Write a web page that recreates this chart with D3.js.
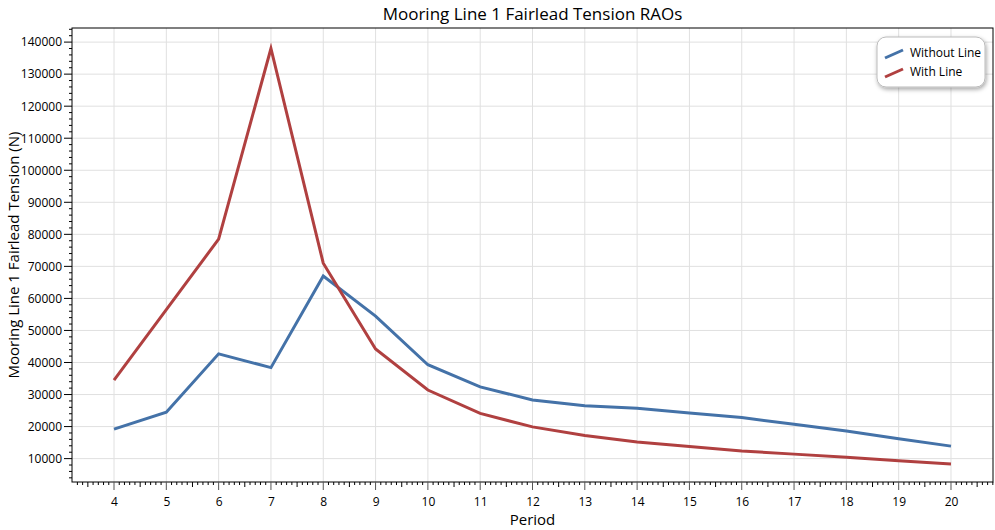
<!DOCTYPE html><html><head><meta charset="utf-8"><script src="https://cdn.jsdelivr.net/npm/d3@7"></script>
<style>body{margin:0;background:#fff}text{font-family:"Segoe UI","Open Sans","Noto Sans",sans-serif}</style></head><body>
<svg id="c" width="995" height="530"></svg>
<script>
const periods=[4,5,6,7,8,9,10,11,12,13,14,15,16,17,18,19,20];
const withoutLine=[19200,24500,42700,38400,67000,54500,39300,32400,28300,26500,25700,24200,22800,20700,18600,16200,13900];
const withLine=[34500,56500,78500,138000,71000,44200,31400,24100,19900,17200,15200,13800,12400,11400,10400,9300,8300];
const yTicks=d3.range(10000,140001,10000);
const svg=d3.select("#c");
const L=72,R=993,T=28,B=482;
const x=d3.scaleLinear().domain([3.197,20.803]).range([L,R]);
const y=d3.scaleLinear().domain([2700,144400]).range([B,T]);
const g=svg.append("g");
g.selectAll(".gx").data(periods).join("line").attr("x1",d=>x(d)).attr("x2",d=>x(d)).attr("y1",T).attr("y2",B).attr("stroke","#e0e0e0");
g.selectAll(".gy").data(yTicks).join("line").attr("x1",L).attr("x2",R).attr("y1",d=>y(d)).attr("y2",d=>y(d)).attr("stroke","#e0e0e0");
g.append("rect").attr("x",L).attr("y",T).attr("width",R-L).attr("height",B-T).attr("fill","none").attr("stroke","#000").attr("stroke-width",1);
const xm=d3.range(33,209).map(v=>v/10);
g.selectAll(".xt").data(xm).join("line").attr("x1",d=>x(d)).attr("x2",d=>x(d)).attr("y1",B)
 .attr("y2",d=>{const r=Math.round(d*10)%10;return B+(r===0?8:r===5?5:3)}).attr("stroke",d=>Math.round(d*10)%10===0?"#555":"#000");
const xa=d3.axisBottom(x).tickValues(periods).tickSize(0).tickPadding(15).tickFormat(d3.format("d"));
g.append("g").attr("transform",`translate(0,${B})`).call(xa).call(a=>a.select(".domain").remove()).selectAll("text").attr("font-size",12).attr("fill","#000");
const ym=d3.range(4000,144001,2000);
g.selectAll(".yt").data(ym).join("line").attr("y1",d=>y(d)).attr("y2",d=>y(d)).attr("x1",L)
 .attr("x2",d=>L-(d%10000===0?8:d%5000===0?5:3)).attr("stroke","#000");
const ya=d3.axisLeft(y).tickValues(yTicks).tickSize(0).tickPadding(10).tickFormat(d3.format("d"));
g.append("g").attr("transform",`translate(${L},0)`).call(ya).call(a=>a.select(".domain").remove()).selectAll("text").attr("font-size",12).attr("fill","#000");
const ln=d3.line().x((d,i)=>x(periods[i])).y(d=>y(d));
g.append("path").attr("d",ln(withoutLine)).attr("fill","none").attr("stroke","#4472a8").attr("stroke-width",3);
g.append("path").attr("d",ln(withLine)).attr("fill","none").attr("stroke","#b04040").attr("stroke-width",3);
svg.append("text").attr("x",(L+R)/2).attr("y",20).attr("text-anchor","middle").attr("font-size",17).text("Mooring Line 1 Fairlead Tension RAOs");
svg.append("text").attr("x",(L+R)/2).attr("y",525).attr("text-anchor","middle").attr("font-size",15).text("Period");
svg.append("text").attr("transform",`translate(19,${(T+B)/2}) rotate(-90)`).attr("text-anchor","middle").attr("font-size",15).text("Mooring Line 1 Fairlead Tension (N)");
const defs=svg.append("defs");
const f=defs.append("filter").attr("id","sh").attr("x","-20%").attr("y","-20%").attr("width","150%").attr("height","160%");
f.append("feDropShadow").attr("dx",1).attr("dy",2).attr("stdDeviation",2).attr("flood-opacity",0.35);
const lg=svg.append("g").attr("transform","translate(877,37)");
lg.append("rect").attr("width",108).attr("height",50).attr("rx",9).attr("fill","#fff").attr("stroke","#bbb").attr("filter","url(#sh)");
[["Without Line","#4472a8"],["With Line","#b04040"]].forEach((s,i)=>{
 lg.append("line").attr("x1",8).attr("x2",26).attr("y1",21+i*19).attr("y2",13+i*19).attr("stroke",s[1]).attr("stroke-width",3);
 lg.append("text").attr("x",33).attr("y",20+i*19).attr("font-size",12).text(s[0]);
});
</script></body></html>
